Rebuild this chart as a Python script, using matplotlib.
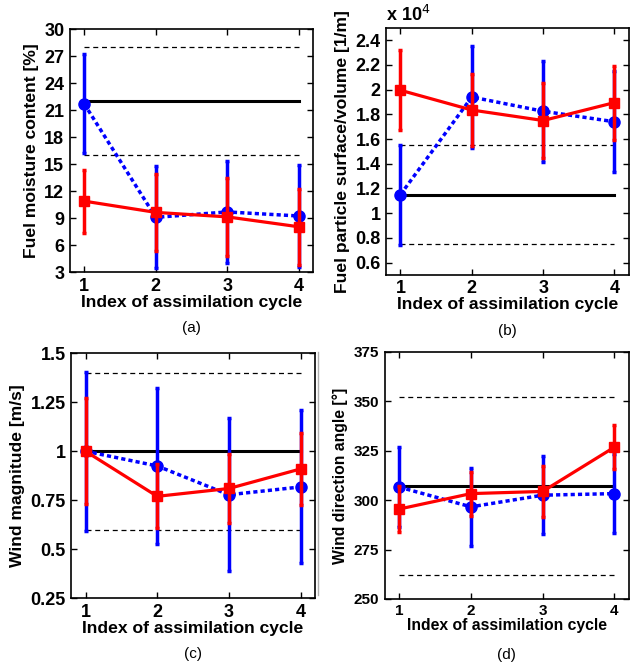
import matplotlib
matplotlib.use("Agg")
import matplotlib.pyplot as plt
from matplotlib.lines import Line2D
from matplotlib.ticker import FuncFormatter

plt.rcParams["font.family"] = ["Liberation Sans", "DejaVu Sans"]

cycles = [1, 2, 3, 4]

# (a) fuel moisture content [%]
fmc_true = 22.0
fmc_bounds = [16.0, 28.0]
fmc_blue = [21.7, 9.1, 9.7, 9.25]
fmc_blue_std = [5.5, 5.65, 5.7, 5.7]
fmc_red = [10.9, 9.65, 9.15, 8.05]
fmc_red_std = [3.5, 4.25, 4.35, 4.2]

# (b) fuel particle surface/volume [1/m]
sv_true = 11500.0
sv_bounds = [7500.0, 15500.0]
sv_blue = [11500.0, 19400.0, 18250.0, 17400.0]
sv_blue_std = [4050.0, 4100.0, 4100.0, 4100.0]
sv_red = [19950.0, 18350.0, 17500.0, 18950.0]
sv_red_std = [3250.0, 2950.0, 3050.0, 3000.0]

# (c) wind magnitude [m/s]
wm_true = 1.0
wm_bounds = [0.6, 1.4]
wm_blue = [1.0, 0.925, 0.778, 0.818]
wm_blue_std = [0.405, 0.396, 0.39, 0.39]
wm_red = [1.0, 0.77, 0.81, 0.91]
wm_red_std = [0.27, 0.163, 0.174, 0.183]

# (d) wind direction angle [deg]
wd_true = 307.0
wd_bounds = [262.0, 352.0]
wd_blue = [306.6, 296.6, 302.5, 303.3]
wd_blue_std = [20.4, 19.7, 19.8, 19.9]
wd_red = [295.5, 303.3, 304.4, 326.8]
wd_red_std = [11.7, 11.1, 12.7, 11.3]


def draw_panel(ax, true_val, bounds, blue, blue_std, red, red_std,
               ylim, yticks, ylabel, caption, fs=12.6, tfs=13):
    ax.plot([cycles[0], cycles[-1]], [true_val, true_val], color="black", lw=2.2, zorder=2)
    for b in bounds:
        ax.plot([cycles[0], cycles[-1]], [b, b], color="black", lw=0.9,
                linestyle=(0, (4, 3)), zorder=2)
    ax.errorbar(cycles, blue, yerr=blue_std, color="#0000ff", ls=(0, (1.2, 0.9)), lw=2.5,
                marker="o", ms=8, elinewidth=2.5, capsize=1.5, capthick=2.5, zorder=3)
    ax.errorbar(cycles, red, yerr=red_std, color="#ff0000", ls="-", lw=2.3,
                marker="s", ms=7, elinewidth=2.5, capsize=1.5, capthick=2.5, zorder=4)
    ax.set_xlim(0.8, 4.2)
    ax.set_ylim(*ylim)
    ax.set_xticks(cycles)
    ax.set_yticks(yticks)
    ax.tick_params(direction="in", top=True, right=True, length=4, width=1,
                   labelsize=tfs, pad=4)
    for sp in ax.spines.values():
        sp.set_linewidth(1.2)
    ax.set_xlabel("Index of assimilation cycle", fontsize=fs, fontweight="bold", labelpad=0)
    ax.set_ylabel(ylabel, fontsize=fs, fontweight="bold", labelpad=4)
    ax.text(0.5, -0.2, caption, transform=ax.transAxes, ha="center", va="top", fontsize=11)


def bold_ticks(ax):
    for lab in ax.get_xticklabels() + ax.get_yticklabels():
        lab.set_fontweight("bold")


fig = plt.figure(figsize=(6.3, 6.64), dpi=100)

ax_a = fig.add_axes([0.111, 0.590, 0.386, 0.366])
draw_panel(ax_a, fmc_true, fmc_bounds, fmc_blue, fmc_blue_std, fmc_red, fmc_red_std,
           (3, 30), list(range(3, 31, 3)), "Fuel moisture content [%]", "(a)")
bold_ticks(ax_a)

ax_b = fig.add_axes([0.613, 0.586, 0.385, 0.372])
draw_panel(ax_b, sv_true, sv_bounds, sv_blue, sv_blue_std, sv_red, sv_red_std,
           (5000, 25000), [6000 + 2000 * i for i in range(10)],
           "Fuel particle surface/volume [1/m]", "(b)")
ax_b.yaxis.set_major_formatter(FuncFormatter(lambda v, p: f"{v / 1e4:g}"))
bold_ticks(ax_b)
ax_b.text(0.0, 1.01, r"x 10$^{4}$", transform=ax_b.transAxes, ha="left", va="bottom",
          fontsize=13, fontweight="bold")

ax_c = fig.add_axes([0.113, 0.099, 0.387, 0.369])
draw_panel(ax_c, wm_true, wm_bounds, wm_blue, wm_blue_std, wm_red, wm_red_std,
           (0.25, 1.5), [0.25, 0.5, 0.75, 1.0, 1.25, 1.5], "Wind magnitude [m/s]", "(c)")
ax_c.yaxis.set_major_formatter(FuncFormatter(lambda v, p: f"{v:g}"))
bold_ticks(ax_c)

ax_d = fig.add_axes([0.611, 0.098, 0.387, 0.372])
draw_panel(ax_d, wd_true, wd_bounds, wd_blue, wd_blue_std, wd_red, wd_red_std,
           (250, 375), list(range(250, 376, 25)), "Wind direction angle [°]", "(d)",
           fs=11.3, tfs=11)
bold_ticks(ax_d)

# thin grey rule left of panel (d), as in the source figure
fig.add_artist(Line2D([318 / 630, 318 / 630], [1 - 352 / 664, 1 - 595 / 664],
                      color="#b0b0b0", lw=1))

fig.savefig("out.png", dpi=100)
